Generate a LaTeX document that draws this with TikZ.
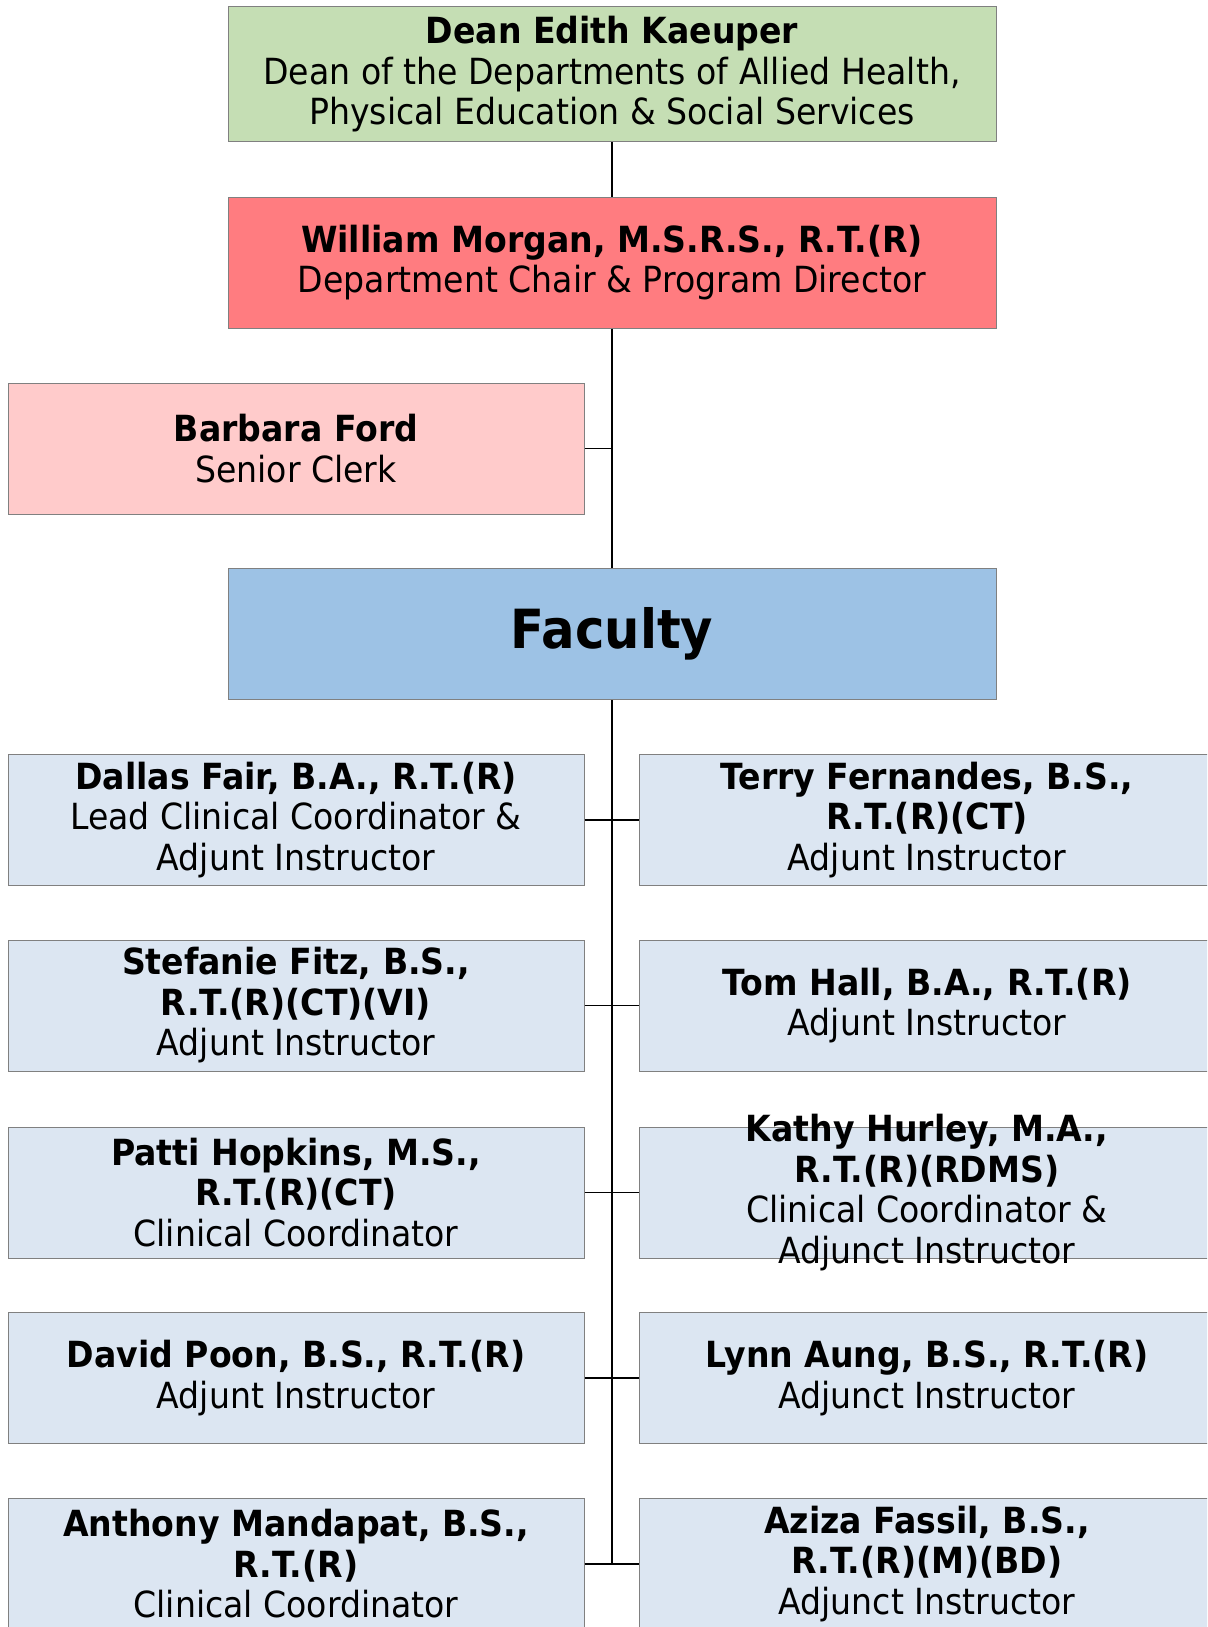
\documentclass[tikz,border=0pt]{standalone}
\usepackage{fontspec}
\setmainfont{DejaVu Sans}[FakeStretch=0.92]
\definecolor{deangreen}{HTML}{C5DEB4}
\definecolor{chairred}{HTML}{FF7C80}
\definecolor{clerkpink}{HTML}{FFCBCB}
\definecolor{headblue}{HTML}{9DC2E5}
\definecolor{facblue}{HTML}{DCE6F2}
\tikzset{
  boxtext/.style={inner sep=0pt, align=center, font=\fontsize{36}{40.5}\selectfont},
  unitbox/.style={boxtext, draw=black!50, line width=1pt, minimum width=768, minimum height=131},
  staffbox/.style={unitbox, minimum width=576},
  facbox/.style={staffbox, fill=facblue},
  link/.style={draw, line width=1.4pt}
}
\begin{document}
\begin{tikzpicture}[x=1pt,y=-1pt]
\clip (0,0) rectangle (1207,1627);
% top of the chart
\node[unitbox, fill=deangreen, minimum height=135] (dean) at (612,74.5)
  {\textbf{Dean Edith Kaeuper}\\Dean of the Departments of Allied Health,\\Physical Education \& Social Services};
\node[unitbox, fill=chairred] (chair) at (612,262.5)
  {\textbf{William Morgan, M.S.R.S., R.T.(R)}\\Department Chair \& Program Director};
\node[staffbox, fill=clerkpink] (clerk) at (296,448.5)
  {\textbf{Barbara Ford}\\Senior Clerk};
\node[unitbox, fill=headblue, font=\fontsize{54}{60}\selectfont\bfseries] (faculty) at (612,634) {Faculty};
% faculty, left column
\node[facbox] (fair) at (296,820)
  {\textbf{Dallas Fair, B.A., R.T.(R)}\\Lead Clinical Coordinator \&\\Adjunt Instructor};
\node[facbox] (fitz) at (296,1005.5)
  {\textbf{Stefanie Fitz, B.S.,}\\\textbf{R.T.(R)(CT)(VI)}\\Adjunt Instructor};
\node[facbox] (hopkins) at (296,1192.5)
  {\textbf{Patti Hopkins, M.S.,}\\\textbf{R.T.(R)(CT)}\\Clinical Coordinator};
\node[facbox] (poon) at (296,1378)
  {\textbf{David Poon, B.S., R.T.(R)}\\Adjunt Instructor};
\node[facbox] (mandapat) at (296,1564)
  {\textbf{Anthony Mandapat, B.S.,}\\\textbf{R.T.(R)}\\Clinical Coordinator};
% faculty, right column
\node[facbox] (fernandes) at (927,820)
  {\textbf{Terry Fernandes, B.S.,}\\\textbf{R.T.(R)(CT)}\\Adjunt Instructor};
\node[facbox] (hall) at (927,1005.5)
  {\textbf{Tom Hall, B.A., R.T.(R)}\\Adjunt Instructor};
% four lines here run over the box edges
\node[facbox, label={[boxtext]center:{\textbf{Kathy Hurley, M.A.,}\\\textbf{R.T.(R)(RDMS)}\\Clinical Coordinator \&\\Adjunct Instructor}}] (hurley) at (927,1192.5) {};
\node[facbox] (aung) at (927,1378)
  {\textbf{Lynn Aung, B.S., R.T.(R)}\\Adjunct Instructor};
\node[facbox] (fassil) at (927,1564)
  {\textbf{Aziza Fassil, B.S.,}\\\textbf{R.T.(R)(M)(BD)}\\Adjunct Instructor};
% connectors
\draw[link] (dean) -- (chair);
\draw[link] (chair) -- (faculty);
\draw[link] (clerk.east) -- (clerk.east -| chair.south);
\draw[link] (faculty.south) -- (mandapat.east -| faculty.south);
\draw[link] (fair) -- (fernandes);
\draw[link] (fitz) -- (hall);
\draw[link] (hopkins) -- (hurley);
\draw[link] (poon) -- (aung);
\draw[link] (mandapat) -- (fassil);
\end{tikzpicture}
\end{document}
